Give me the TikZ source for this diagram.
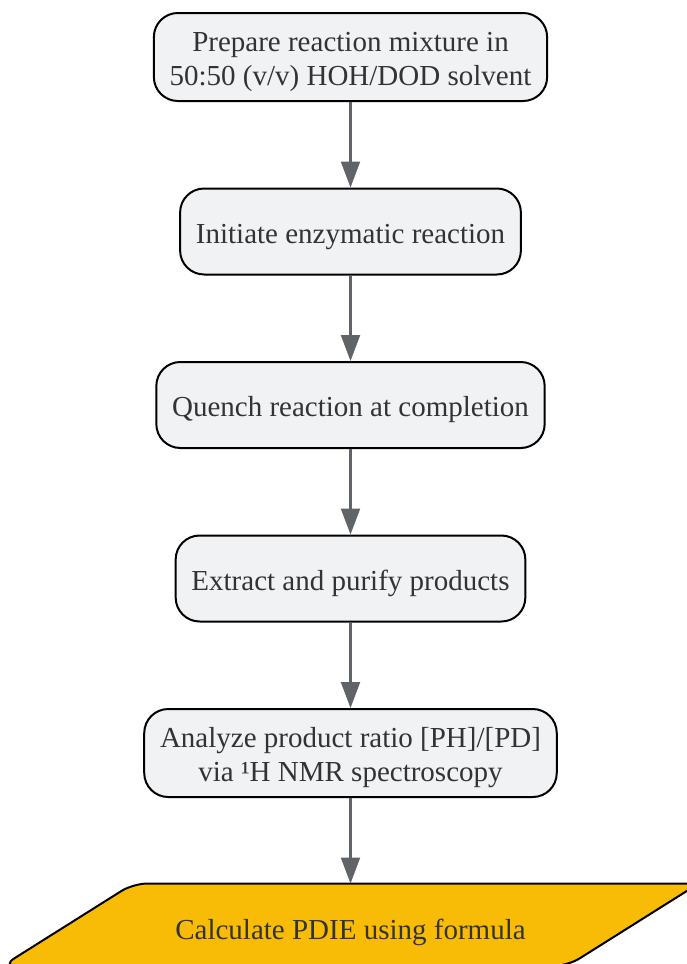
\documentclass[tikz,border=0pt]{standalone}
\usepackage{fontspec}
\setmainfont{Liberation Serif}
\usepackage{xcolor}
\usepackage{tikz}
\usetikzlibrary{arrows.meta, positioning, backgrounds}
\definecolor{boxfill}{HTML}{F1F2F4}
\definecolor{calcfill}{HTML}{F9BC06}
\definecolor{txt}{HTML}{333333}
\definecolor{arr}{HTML}{606368}

\begin{document}
\begin{tikzpicture}[x=1pt, y=1pt, >={Triangle[length=26pt, width=19pt]}, node distance=85.5pt,
  font=\fontsize{29}{34}\selectfont,
  n/.style={draw, line width=2pt, rounded corners=24pt, align=center, text=txt, minimum height=86pt, inner xsep=15.8pt, fill=boxfill, text height=30pt, text depth=6.5pt},
  two/.style={n, minimum height=88pt, inner ysep=4pt, text height=63pt, text depth=6.5pt},
  io/.style={align=center, text=txt, minimum width=565pt, minimum height=82pt, text height=36pt, text depth=6.5pt},
  e/.style={->, draw=arr, line width=2.2pt}]
\path[use as bounding box, clip] (0,0) rectangle (687,-964);
\node[two] (prep) at (350.5,-57) {Prepare reaction mixture in\\ 50:50 (v/v) HOH/DOD solvent};
\node[n, below=of prep] (init) {Initiate enzymatic reaction};
\node[n, below=of init] (quench) {Quench reaction at completion};
\node[n, below=of quench] (extr) {Extract and purify products};
\node[two, below=of extr] (ana) {Analyze product ratio [PH]/[PD]\\ via ¹H NMR spectroscopy};
\node[io, below=of ana] (calc) {Calculate PDIE using formula};
% parallelogram behind the last node
\begin{scope}[on background layer]
\draw[line width=2pt, rounded corners=14pt, fill=calcfill]
  ([xshift=-65.5pt]calc.south west) -- ([xshift=-65.5pt]calc.south east)
  -- ([xshift=65.5pt]calc.north east) -- ([xshift=65.5pt]calc.north west) -- cycle;
\end{scope}
\draw[e] (prep) -- (init);
\draw[e] (init) -- (quench);
\draw[e] (quench) -- (extr);
\draw[e] (extr) -- (ana);
\draw[e] (ana) -- (calc);
\end{tikzpicture}
\end{document}
